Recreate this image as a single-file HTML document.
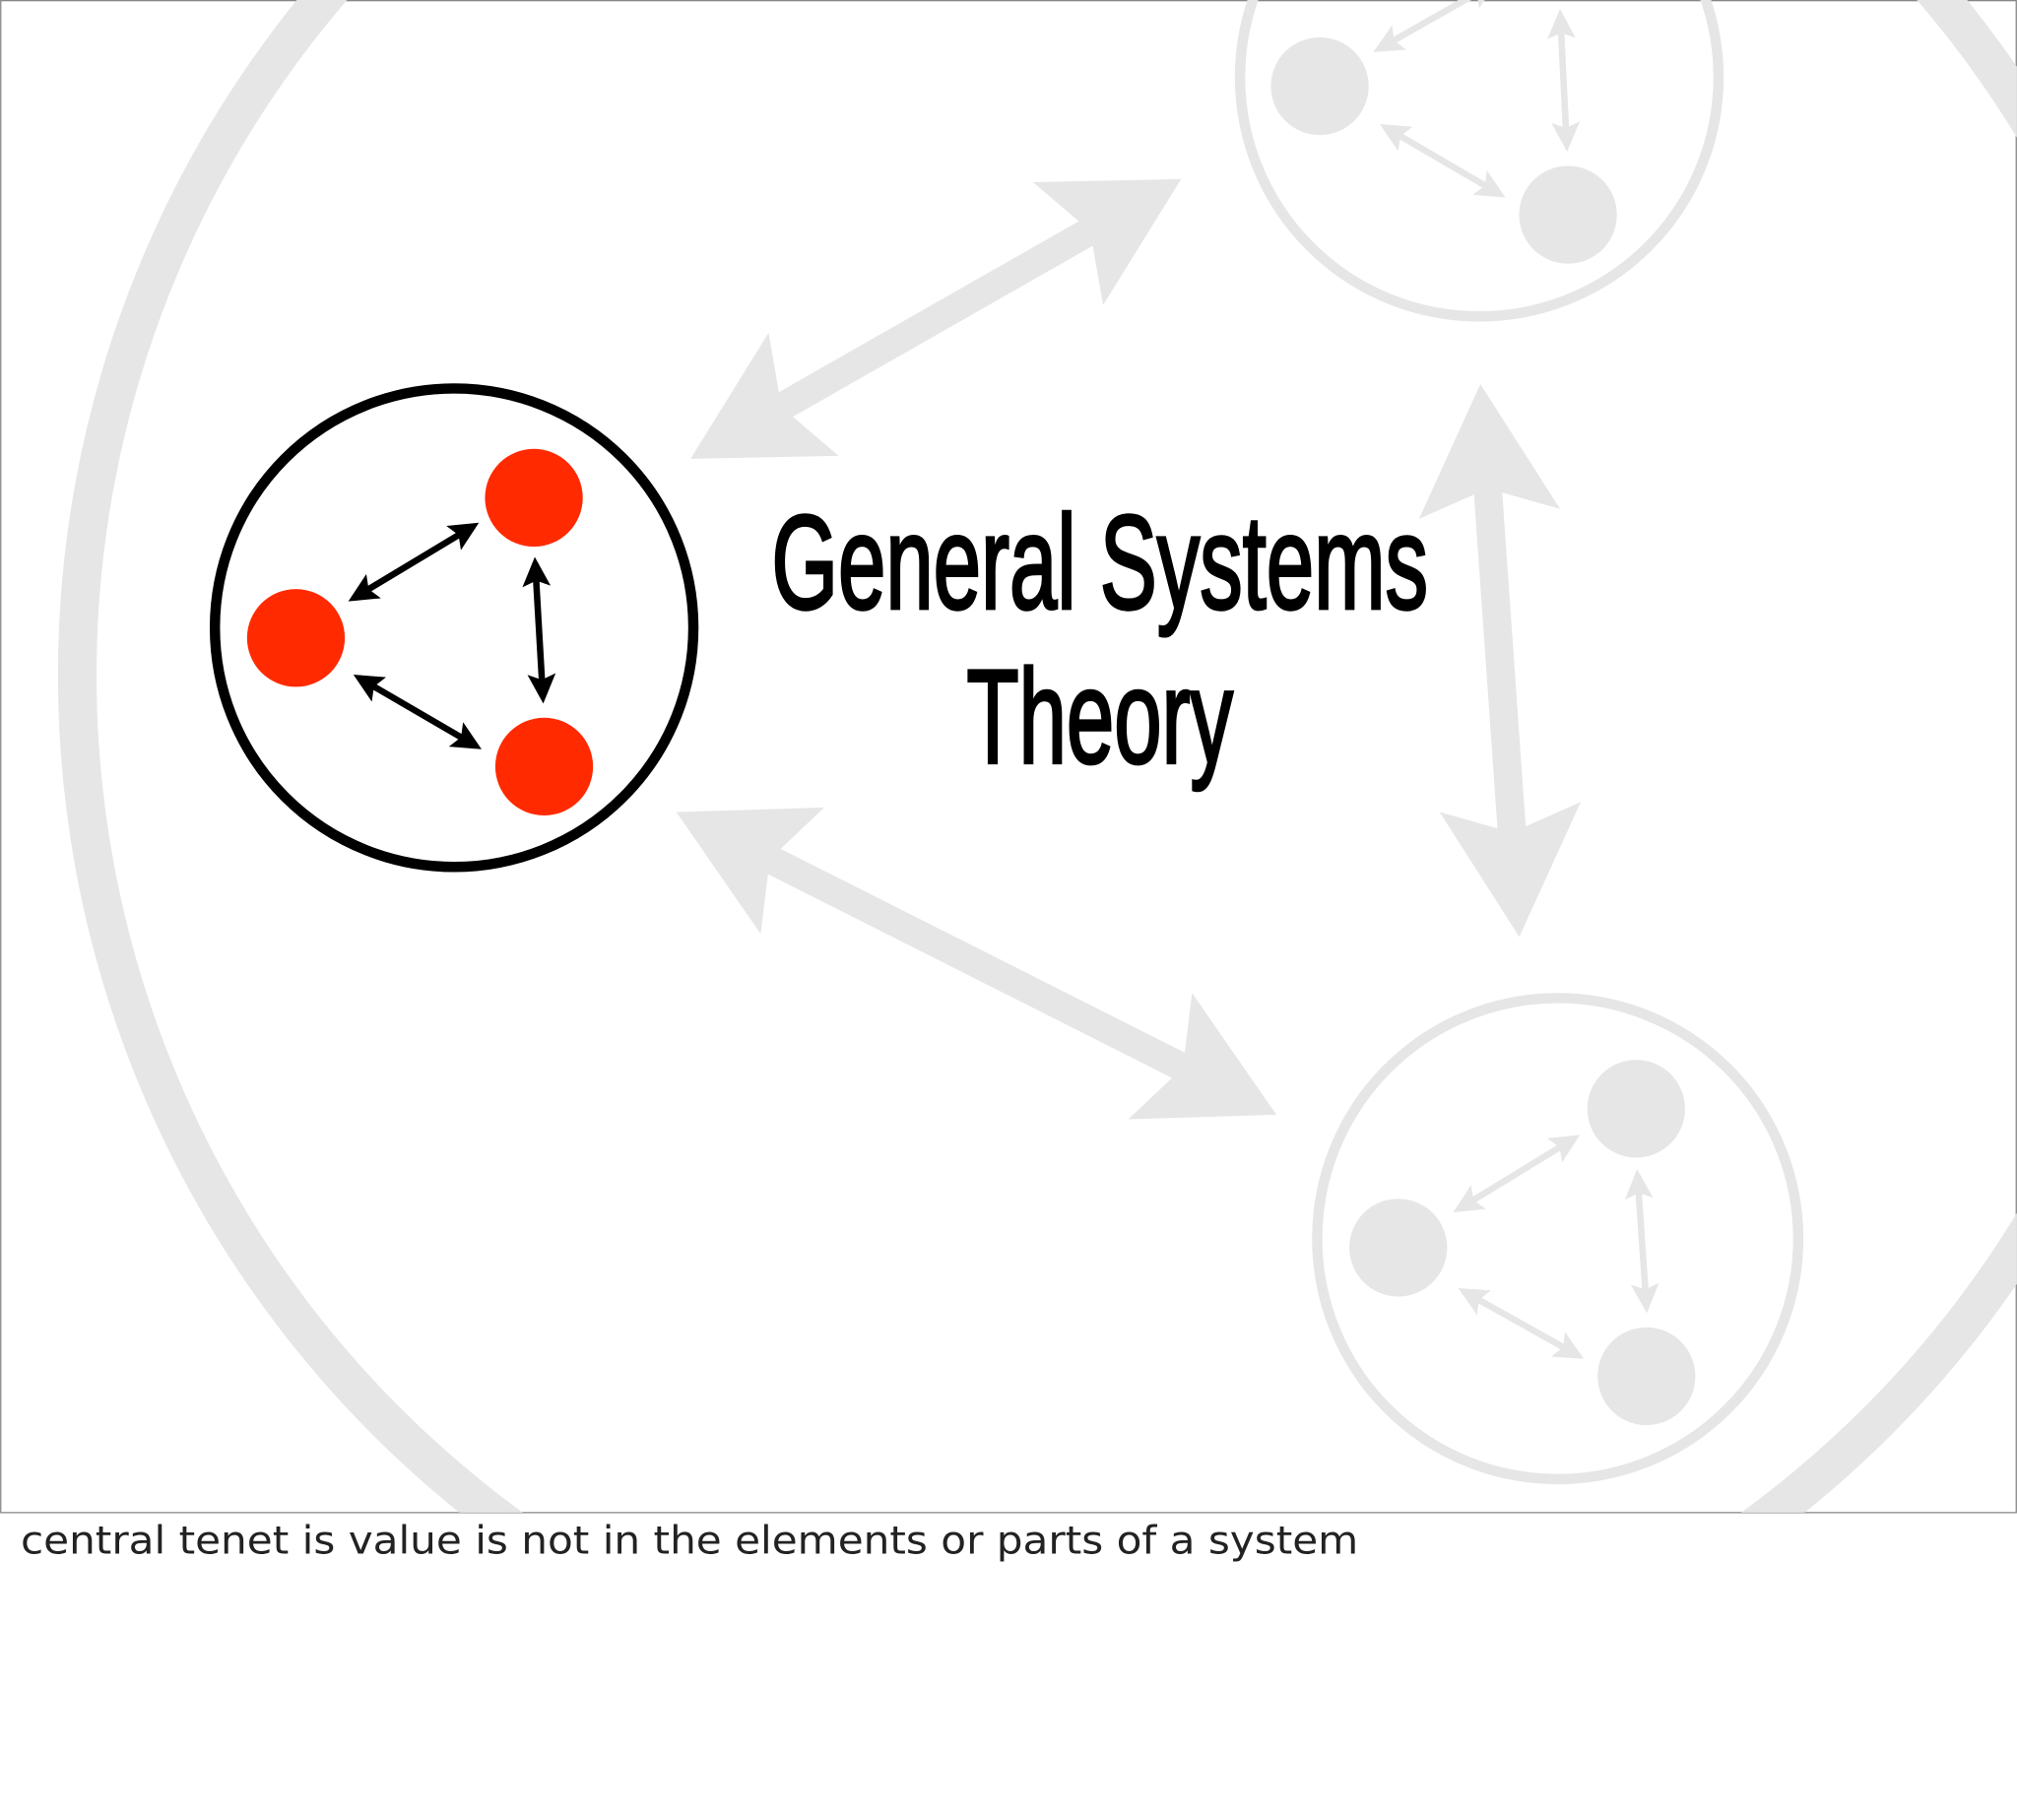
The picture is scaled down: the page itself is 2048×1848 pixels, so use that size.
<!DOCTYPE html>
<html><head><meta charset="utf-8"><style>
html,body{margin:0;padding:0;background:#fff;}
svg{display:block;}
</style></head><body>
<svg width="2048" height="1848" viewBox="0 0 1568 1415" xmlns="http://www.w3.org/2000/svg">
<defs>
<clipPath id="slide"><rect x="0" y="0" width="1568" height="1176"/></clipPath>
<marker id="big" markerUnits="strokeWidth" markerWidth="5" markerHeight="5" viewBox="0 0 4.6 5" refX="0.9" refY="2.5" orient="auto-start-reverse">
<path d="M0,0 L4.6,2.5 L0,5 L0.9,2.5 Z" fill="#e6e6e6"/></marker>
<marker id="sk" markerUnits="strokeWidth" markerWidth="5" markerHeight="4.4" viewBox="0 0 4.6 4.4" refX="3.6" refY="2.2" orient="auto-start-reverse">
<path d="M0,0 L4.6,2.2 L0,4.4 L0.9,2.2 Z" fill="#000"/></marker>
<marker id="sg" markerUnits="strokeWidth" markerWidth="5" markerHeight="4.4" viewBox="0 0 4.6 4.4" refX="3.6" refY="2.2" orient="auto-start-reverse">
<path d="M0,0 L4.6,2.2 L0,4.4 L0.9,2.2 Z" fill="#e6e6e6"/></marker>
</defs>
<rect x="0.5" y="0.5" width="1567" height="1175.5" fill="#fff" stroke="#888" stroke-width="1"/>
<g clip-path="url(#slide)">
<circle cx="880" cy="525" r="820" fill="none" stroke="#e6e6e6" stroke-width="30"/>
<g stroke="#e6e6e6" stroke-width="22" fill="none">
<line x1="607.5" y1="316.4" x2="847.5" y2="179.6" marker-start="url(#big)" marker-end="url(#big)"/>
<line x1="1156.6" y1="379.8" x2="1175.4" y2="647.2" marker-start="url(#big)" marker-end="url(#big)"/>
<line x1="598.4" y1="668" x2="919.6" y2="830" marker-start="url(#big)" marker-end="url(#big)"/>
</g>
<circle cx="1150" cy="60" r="186" fill="none" stroke="#e6e6e6" stroke-width="8"/>
<circle cx="1026" cy="67" r="38" fill="#e6e6e6"/>
<circle cx="1219" cy="167" r="38" fill="#e6e6e6"/>
<circle cx="1165" cy="-40" r="38" fill="#e6e6e6"/>
<g stroke="#e6e6e6" stroke-width="5">
<line x1="1072" y1="38" x2="1160" y2="-12" marker-start="url(#sg)" marker-end="url(#sg)"/>
<line x1="1213" y1="12" x2="1218" y2="113" marker-start="url(#sg)" marker-end="url(#sg)"/>
<line x1="1077" y1="99" x2="1166" y2="151" marker-start="url(#sg)" marker-end="url(#sg)"/>
</g>
<circle cx="1211" cy="963" r="187" fill="none" stroke="#e6e6e6" stroke-width="8"/>
<circle cx="1272" cy="862" r="38" fill="#e6e6e6"/>
<circle cx="1087" cy="970" r="38" fill="#e6e6e6"/>
<circle cx="1280" cy="1070" r="38" fill="#e6e6e6"/>
<g stroke="#e6e6e6" stroke-width="5">
<line x1="1134" y1="940" x2="1224" y2="885" marker-start="url(#sg)" marker-end="url(#sg)"/>
<line x1="1273" y1="914" x2="1280" y2="1016" marker-start="url(#sg)" marker-end="url(#sg)"/>
<line x1="1138" y1="1004" x2="1227" y2="1054" marker-start="url(#sg)" marker-end="url(#sg)"/>
</g>
<circle cx="353" cy="488" r="186" fill="none" stroke="#000" stroke-width="8"/>
<circle cx="415" cy="387" r="38" fill="#ff2a00"/>
<circle cx="230" cy="496" r="38" fill="#ff2a00"/>
<circle cx="423" cy="596" r="38" fill="#ff2a00"/>
<g stroke="#000" stroke-width="5">
<line x1="275" y1="465" x2="368" y2="409" marker-start="url(#sk)" marker-end="url(#sk)"/>
<line x1="416" y1="438" x2="422" y2="542" marker-start="url(#sk)" marker-end="url(#sk)"/>
<line x1="279" y1="527" x2="370" y2="580" marker-start="url(#sk)" marker-end="url(#sk)"/>
</g>
<g font-family="'Liberation Sans', sans-serif" font-size="104" fill="#000" stroke="#000" stroke-width="2.5" text-anchor="middle">
<text transform="translate(855,473) scale(0.64,1)">General Systems</text>
<text transform="translate(855,593) scale(0.64,1)">Theory</text>
</g>
</g>
<text x="16" y="1208" font-family="'DejaVu Sans', sans-serif" font-size="30" fill="#222" textLength="1040" lengthAdjust="spacingAndGlyphs">central tenet is value is not in the elements or parts of a system</text>
</svg>
</body></html>
